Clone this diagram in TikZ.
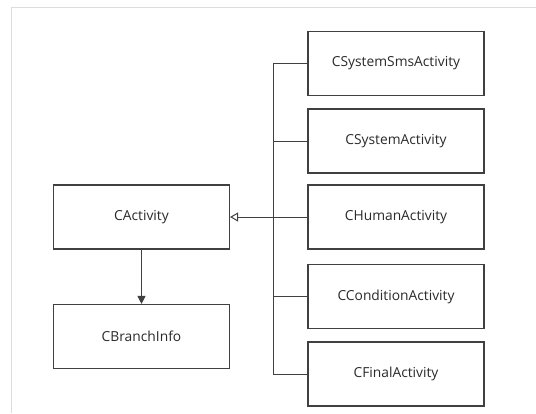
\documentclass[tikz,border=0pt]{standalone}
\usepackage{fontspec}
\setmainfont{Open Sans}
\usetikzlibrary{arrows.meta}
\definecolor{edge}{HTML}{404040}
\definecolor{ink}{HTML}{2A2A2A}
\definecolor{frame}{HTML}{DCDCDC}
\begin{document}
\begin{tikzpicture}[x=1pt,y=-1pt,
  cls/.style={draw=edge, line width=1.1pt, fill=white, minimum width=176pt,
    minimum height=64pt, inner sep=0pt, text=ink, font=\fontsize{13.8}{16}\selectfont},
  link/.style={draw=edge, line width=1pt}]
  \useasboundingbox (0,0) rectangle (536,413);
  \fill[white] (0,0) rectangle (536,413);
  % outer panel edge
  \draw[frame, line width=1pt] (11,413) -- (11,7) -- (536,7);

  % classes
  \node[cls] (act) at (141.5,217) {CActivity};
  \node[cls] (branch) at (141.5,336.5) {CBranchInfo};
  \node[cls] (sms) at (396,63.5) {CSystemSmsActivity};
  \node[cls] (sys) at (396,141) {CSystemActivity};
  \node[cls] (human) at (396,217) {CHumanActivity};
  \node[cls] (cond) at (396,296.5) {CConditionActivity};
  \node[cls] (final) at (396,374) {CFinalActivity};

  % inheritance bus
  \coordinate (bus) at (273.5,0);
  \draw[link] (sms.west) -- (sms.west -| bus) -- (final.west -| bus) -- (final.west);
  \draw[link] (sys.west) -- (sys.west -| bus);
  \draw[link] (cond.west) -- (cond.west -| bus);
  \draw[link, -{Triangle[open, length=8pt, width=9pt]}] (human.west) -- (act.east);

  % association
  \draw[link, -{Triangle[length=8pt, width=8pt]}] (act.south) -- (branch.north);
\end{tikzpicture}
\end{document}
